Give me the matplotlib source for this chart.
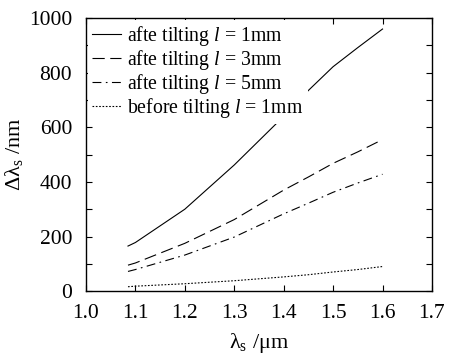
import matplotlib
matplotlib.use("Agg")
import matplotlib.pyplot as plt
from matplotlib.ticker import MultipleLocator, FormatStrFormatter

plt.rcParams['font.family'] = ['Liberation Serif', 'DejaVu Serif']
plt.rcParams['mathtext.fontset'] = 'custom'
plt.rcParams['mathtext.rm'] = 'Liberation Serif'
plt.rcParams['mathtext.it'] = 'Liberation Serif:italic'

# wavelength (um) and shift (nm)
wl = [1.085, 1.1, 1.2, 1.3, 1.4, 1.45, 1.5, 1.55, 1.6]
after_1mm = [165, 178, 300, 462, 640, 735, 822, 892, 960]
after_3mm = [95, 103, 175, 262, 370, 418, 468, 510, 555]
after_5mm = [72, 79, 132, 198, 283, 322, 362, 396, 428]
before_1mm = [16, 18, 27, 38, 52, 60, 70, 79, 90]

labels = ["afte tilting $l$ = 1mm", "afte tilting $l$ = 3mm",
          "afte tilting $l$ = 5mm", "before tilting $l$ = 1mm"]

fig = plt.figure(figsize=(4.49, 3.55), dpi=100)
ax = fig.add_axes([0.1915, 0.180, 0.7705, 0.769])

ax.plot(wl, after_1mm, color='black', lw=0.8, ls='-', label=labels[0])
ax.plot(wl, after_3mm, color='black', lw=0.8, ls=(0, (11, 5)), label=labels[1])
ax.plot(wl, after_5mm, color='black', lw=0.8, ls=(0, (8, 4, 1.5, 4)), label=labels[2])
ax.plot(wl, before_1mm, color='black', lw=0.8, ls=(0, (1.5, 1.5)), label=labels[3])

ax.set_xlim(1.0, 1.7)
ax.set_ylim(0, 1000)
ax.xaxis.set_major_locator(MultipleLocator(0.1))
ax.yaxis.set_major_locator(MultipleLocator(200))
ax.yaxis.set_minor_locator(MultipleLocator(100))
ax.tick_params(which='both', direction='in', top=True, right=True, labelsize=15.5)
ax.tick_params(which='major', length=4, width=0.8)
ax.tick_params(which='minor', length=4, width=0.8)
ax.tick_params(axis='x', pad=9)
ax.tick_params(axis='y', pad=10)
ax.xaxis.set_major_formatter(FormatStrFormatter('%.1f'))
for s in ax.spines.values():
    s.set_linewidth(1.0)

ax.set_xlabel("λ$_\\mathrm{s}$ /μm", fontsize=16, labelpad=6)
ax.set_ylabel("Δλ$_\\mathrm{s}$ /nm", fontsize=16, labelpad=3)

# white box behind legend hides the curve where it crosses the text
leg = ax.legend(loc='upper left', frameon=True, fontsize=14.2, handlelength=1.5,
                handletextpad=0.3, labelspacing=0.0, borderaxespad=0.1,
                borderpad=0.2, fancybox=False, framealpha=1.0)
leg.get_frame().set_edgecolor('none')
leg.get_frame().set_facecolor('white')

fig.savefig("out.png", dpi=100)
